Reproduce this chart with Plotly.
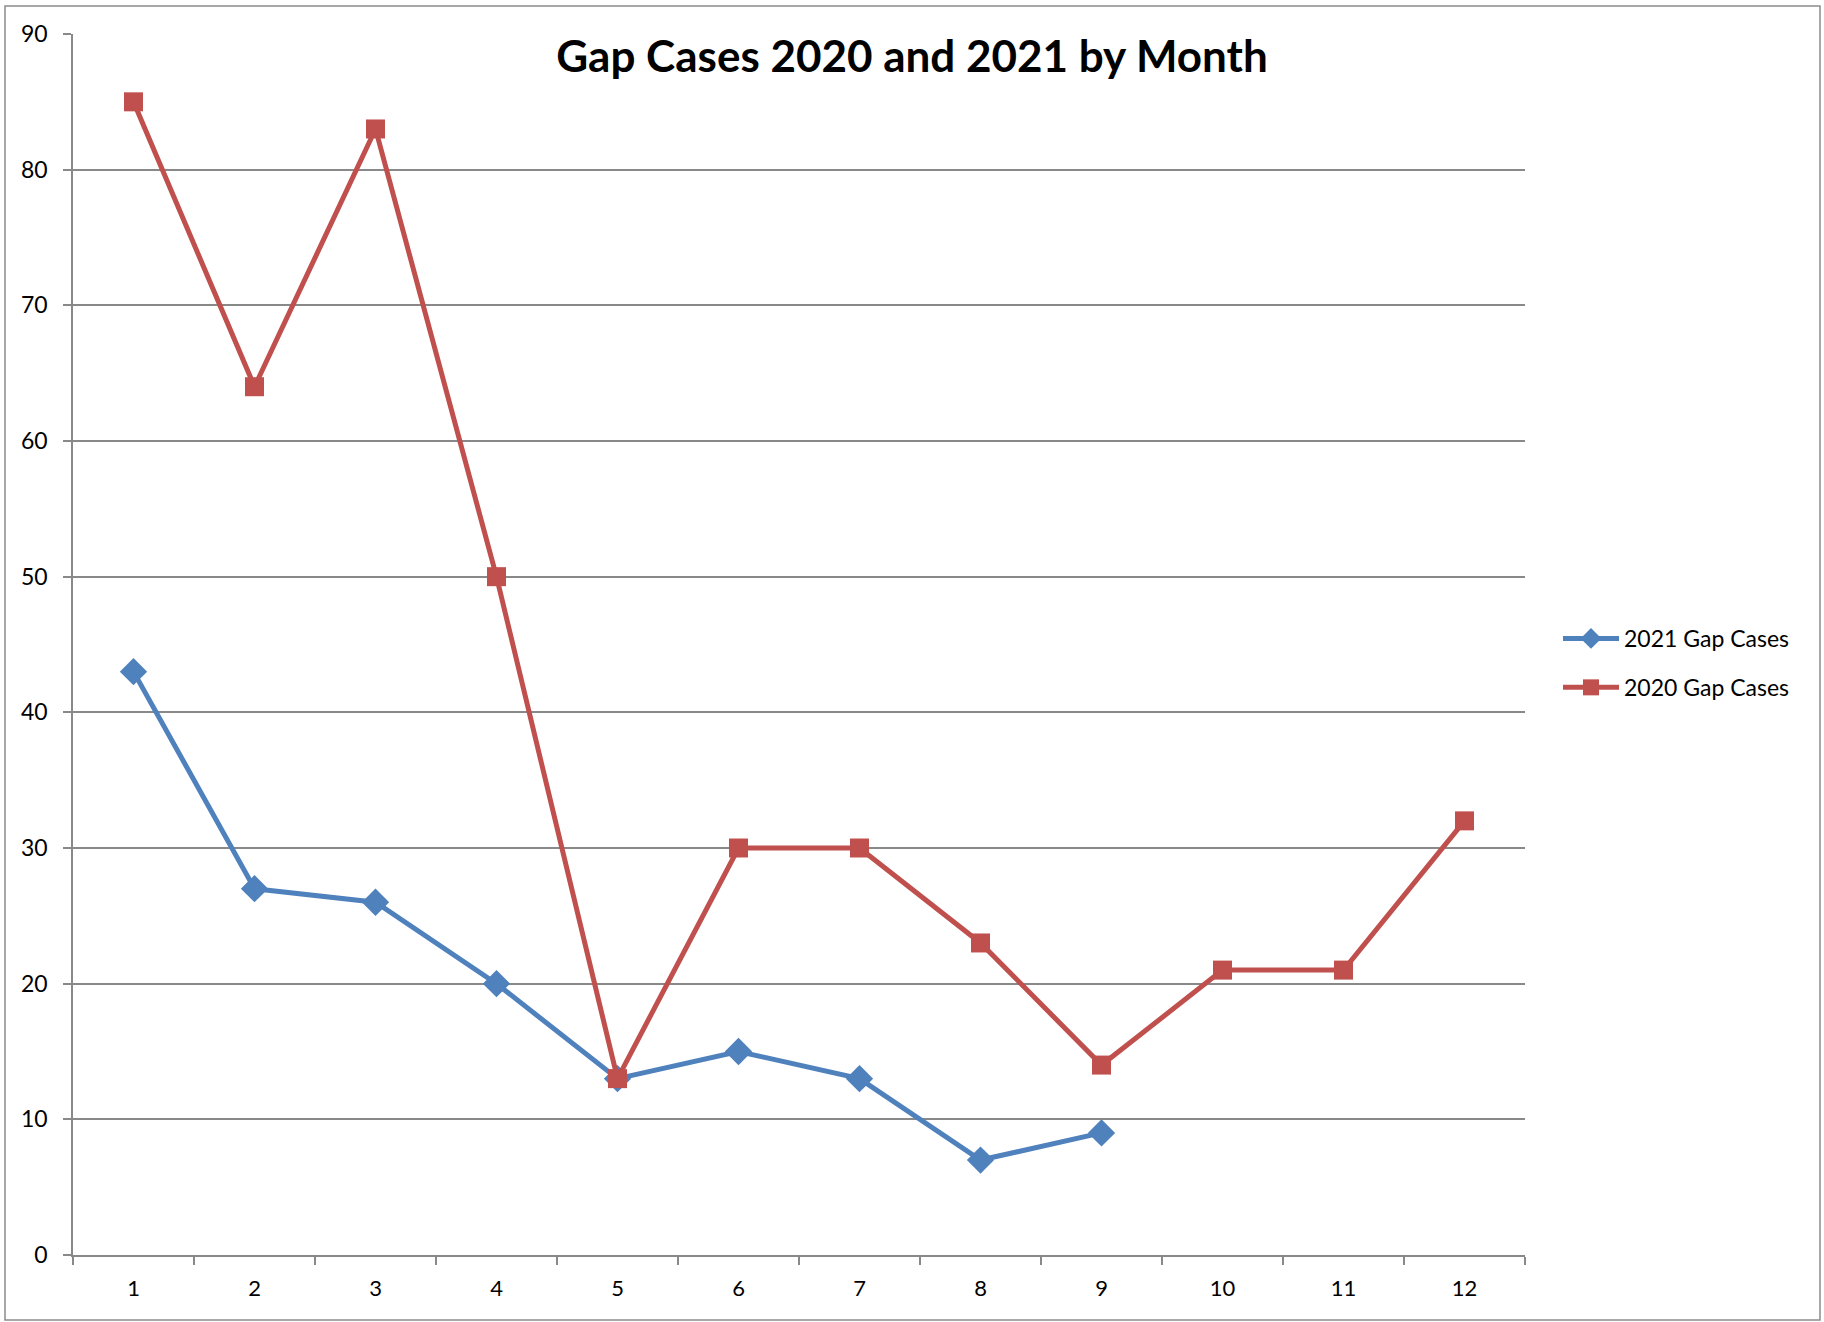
import plotly.graph_objects as go

months = ["1", "2", "3", "4", "5", "6", "7", "8", "9", "10", "11", "12"]
cases_2021 = [43, 27, 26, 20, 13, 15, 13, 7, 9]
cases_2020 = [85, 64, 83, 50, 13, 30, 30, 23, 14, 21, 21, 32]
y_ticks = [0, 10, 20, 30, 40, 50, 60, 70, 80, 90]

BLUE = "#4F81BD"
RED = "#C0504D"
GRID = "#898989"
FONT = "Lato"

W, H = 1824, 1322
L, R, T, B = 73, 1525, 34, 1255

fig = go.Figure()
fig.add_trace(go.Scatter(
    x=months[:len(cases_2021)], y=cases_2021, name="2021 Gap Cases",
    mode="lines+markers", legendgroup="a",
    line=dict(color=BLUE, width=5),
    marker=dict(symbol="diamond", size=21, color=BLUE),
))
fig.add_trace(go.Scatter(
    x=months, y=cases_2020, name="2020 Gap Cases",
    mode="lines+markers", legendgroup="b",
    line=dict(color=RED, width=5),
    marker=dict(symbol="square", size=19, color=RED),
))

pw, ph = R - L, B - T
def px_x(x):
    return (x - L) / pw
def px_y(y):
    return (B - y) / ph

fig.add_shape(type="rect", xref="paper", yref="paper",
              x0=px_x(5), x1=px_x(1820), y0=px_y(1320), y1=px_y(6),
              line=dict(color="#8c8c8c", width=1.5), fillcolor="rgba(0,0,0,0)",
              layer="below")

fig.update_layout(
    width=W, height=H,
    margin=dict(l=L, r=W - R, t=T, b=H - B),
    paper_bgcolor="white", plot_bgcolor="white",
    font=dict(family=FONT, color="black", size=22),
    title=dict(text="<b>Gap Cases 2020 and 2021 by Month</b>",
               x=0.5, xref="container", xanchor="center",
               y=1 - 57 / H, yref="container", yanchor="middle",
               font=dict(family=FONT, size=44, color="black")),
    legend=dict(x=px_x(1558), xanchor="left", y=px_y(663), yanchor="middle",
                font=dict(family=FONT, size=23, color="black"),
                bgcolor="rgba(0,0,0,0)", tracegroupgap=16, itemwidth=56,
                traceorder="grouped"),
    showlegend=True,
)
fig.update_xaxes(
    type="category", categoryorder="array", categoryarray=months,
    range=[-0.5, len(months) - 0.5],
    showline=True, linecolor=GRID, linewidth=1.5,
    ticks="outside", tickson="boundaries", ticklen=8, tickcolor=GRID, tickwidth=1.5,
    showgrid=False, zeroline=False,
    tickfont=dict(family=FONT, size=22, color="black"),
    ticklabelstandoff=13,
)
fig.update_yaxes(
    range=[0, 90], tickvals=y_ticks, ticktext=[str(v) for v in y_ticks],
    showline=True, linecolor=GRID, linewidth=1.5,
    ticks="outside", ticklen=8, tickcolor=GRID, tickwidth=1.5,
    showgrid=True, gridcolor=GRID, gridwidth=1.5, zeroline=False,
    tickfont=dict(family=FONT, size=23, color="black"),
    ticklabelstandoff=11,
)

fig.write_html("out.html", config={"displayModeBar": False},
               post_script="document.body.style.margin='0';document.body.style.overflow='hidden';")
